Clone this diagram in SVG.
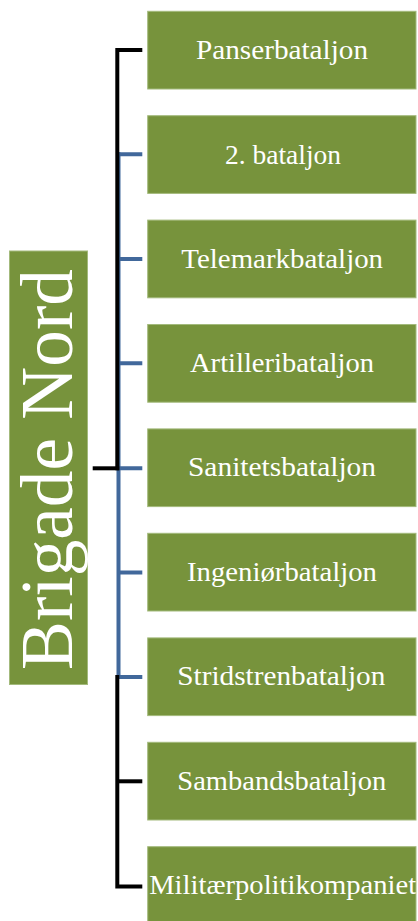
<svg xmlns="http://www.w3.org/2000/svg" width="418" height="921" viewBox="0 0 418 921">
<style>
.box{fill:#77933C;stroke:#a3ba7c;stroke-width:1}
.lbl{font-family:"Liberation Serif","Times New Roman",serif;font-size:27px;fill:#ffffff;text-anchor:middle}
.blue{stroke:#41689b;stroke-width:4;fill:none}
.black{stroke:#000000;stroke-width:4;fill:none}
</style>
<rect width="418" height="921" fill="#ffffff"/>
<g id="connectors">
<path class="blue" d="M118.5,152.3 V679"/>
<path class="blue" d="M118,154.3 H142.3 M118,259 H142.3 M118,363.3 H142.3 M118,468.3 H142.3 M118,572.5 H142.3 M118,677 H142.3"/>
<path class="black" d="M142.3,50 H117.3 V470.3"/>
<path class="black" d="M92.7,468.3 H119.3"/>
<path class="black" d="M117.3,675 V886.5 H142.3"/>
<path class="black" d="M117.3,781.3 H142.3"/>
</g>
<g id="root">
<rect class="box" x="9.5" y="251" width="78" height="433.5"/>
<text transform="translate(71.7,469.5) rotate(-90)" font-family="Liberation Serif,Times New Roman,serif" font-size="74" fill="#ffffff" text-anchor="middle" textLength="401" lengthAdjust="spacingAndGlyphs">Brigade Nord</text>
</g>
<g id="n1"><rect class="box" x="147.7" y="11.3" width="268.3" height="77.7"/><text class="lbl" x="282" y="59.3" textLength="172" lengthAdjust="spacingAndGlyphs">Panserbataljon</text></g>
<g id="n2"><rect class="box" x="147.7" y="115.7" width="268.3" height="77.7"/><text class="lbl" x="283" y="163.5" textLength="116" lengthAdjust="spacingAndGlyphs">2. bataljon</text></g>
<g id="n3"><rect class="box" x="147.7" y="220.1" width="268.3" height="77.7"/><text class="lbl" x="282.2" y="267.6" textLength="201.7" lengthAdjust="spacingAndGlyphs">Telemarkbataljon</text></g>
<g id="n4"><rect class="box" x="147.7" y="324.5" width="268.3" height="77.7"/><text class="lbl" x="282" y="372" textLength="184" lengthAdjust="spacingAndGlyphs">Artilleribataljon</text></g>
<g id="n5"><rect class="box" x="147.7" y="428.9" width="268.3" height="77.7"/><text class="lbl" x="282" y="476.4" textLength="188" lengthAdjust="spacingAndGlyphs">Sanitetsbataljon</text></g>
<g id="n6"><rect class="box" x="147.7" y="533.3" width="268.3" height="77.7"/><text class="lbl" x="282" y="580.8" textLength="190" lengthAdjust="spacingAndGlyphs">Ingeniørbataljon</text></g>
<g id="n7"><rect class="box" x="147.7" y="637.9" width="268.3" height="77.7"/><text class="lbl" x="281.3" y="684.9" textLength="208" lengthAdjust="spacingAndGlyphs">Stridstrenbataljon</text></g>
<g id="n8"><rect class="box" x="147.7" y="742.3" width="268.3" height="77.7"/><text class="lbl" x="281.8" y="789.5" textLength="209" lengthAdjust="spacingAndGlyphs">Sambandsbataljon</text></g>
<g id="n9"><rect class="box" x="147.7" y="846.7" width="268.3" height="77.7"/><text class="lbl" x="282.7" y="894" textLength="267" lengthAdjust="spacingAndGlyphs">Militærpolitikompaniet</text></g>
</svg>
